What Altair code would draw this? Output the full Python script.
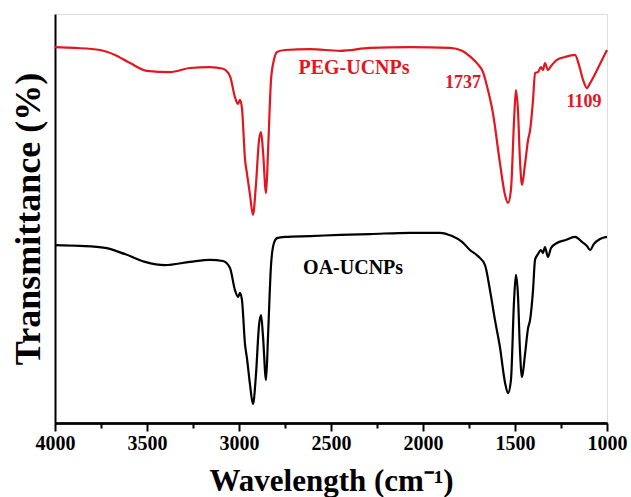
import altair as alt
import pandas as pd

# PEG-UCNPs spectrum (wavenumber, transmittance a.u.)
peg_wn = [4000, 3891, 3755, 3674, 3592, 3500, 3375, 3266, 3158, 3087, 3049, 3022, 3005, 2995, 2984,
          2967, 2957, 2940, 2924, 2908, 2891, 2880, 2870, 2853, 2842, 2826, 2810, 2793, 2750, 2614,
          2451, 2288, 2071, 1853, 1788, 1755, 1734, 1707, 1674, 1647, 1620, 1582, 1554, 1538, 1522,
          1505, 1495, 1484, 1473, 1462, 1446, 1429, 1418, 1402, 1391, 1375, 1359, 1348, 1337, 1321,
          1304, 1272, 1228, 1174, 1152, 1130, 1109, 1092, 1071, 1038, 1000]
peg_t = [91.9, 91.7, 91.2, 90.0, 88.0, 86.1, 85.8, 86.8, 87.0, 86.6, 84.8, 79.7, 78.0, 79.0, 77.0,
         64.3, 61.1, 55.7, 50.9, 58.2, 69.2, 71.1, 66.7, 56.2, 66.7, 83.9, 88.8, 90.7, 91.2, 91.4,
         91.0, 91.7, 91.9, 91.7, 91.0, 90.0, 89.2, 88.0, 85.8, 81.4, 75.8, 63.6, 55.7, 53.8, 57.0,
         74.1, 81.4, 76.5, 64.3, 58.2, 63.1, 69.2, 71.6, 79.0, 85.6, 85.8, 87.0, 86.3, 88.0, 86.3,
         87.3, 88.8, 89.5, 90.0, 87.5, 83.9, 81.9, 83.1, 84.8, 87.8, 91.2]

# OA-UCNPs spectrum
oa_wn = [4000, 3864, 3728, 3620, 3511, 3402, 3266, 3158, 3087, 3049, 3022, 3005, 2995, 2984, 2967,
         2957, 2940, 2924, 2908, 2891, 2880, 2870, 2853, 2842, 2826, 2810, 2793, 2750, 2614, 2451,
         2288, 2071, 1908, 1842, 1788, 1745, 1701, 1663, 1636, 1609, 1582, 1554, 1538, 1522, 1505,
         1495, 1484, 1473, 1462, 1446, 1429, 1418, 1402, 1391, 1375, 1359, 1348, 1337, 1321, 1304,
         1272, 1228, 1174, 1136, 1109, 1092, 1071, 1038, 1000]
oa_t = [43.5, 43.3, 42.8, 41.3, 39.4, 38.6, 39.4, 39.9, 39.6, 37.9, 32.5, 30.8, 31.8, 30.1, 19.1,
        15.9, 9.3, 4.6, 11.7, 24.0, 26.4, 21.5, 10.5, 21.5, 38.6, 44.0, 45.2, 45.5, 45.7, 46.0,
        46.2, 46.5, 46.5, 45.7, 44.3, 42.3, 40.8, 38.6, 32.5, 25.2, 18.6, 9.8, 7.3, 10.5, 30.1,
        36.2, 31.3, 17.8, 11.2, 16.6, 23.2, 25.2, 32.5, 39.9, 41.3, 42.3, 41.6, 43.0, 40.6, 42.8,
        44.0, 44.7, 45.5, 44.3, 43.3, 42.3, 43.8, 45.0, 45.5]

series_names = ["PEG-UCNPs", "OA-UCNPs"]
series_colors = ["#e2161e", "#000000"]

label_text = ["PEG-UCNPs", "1737", "1109", "OA-UCNPs"]
label_wn = [2375, 1783, 1125, 2380]
label_t = [86.8, 83.1, 78.5, 37.9]
label_color = ["#e2161e", "#e2161e", "#e2161e", "#000000"]
label_size = [20, 18, 18, 20]

major_ticks = [1000, 1500, 2000, 2500, 3000, 3500, 4000]
minor_ticks = [1250, 1750, 2250, 2750, 3250, 3750]

df = pd.concat([
    pd.DataFrame({"wn": peg_wn, "t": peg_t, "s": series_names[0]}),
    pd.DataFrame({"wn": oa_wn, "t": oa_t, "s": series_names[1]}),
])
labels = pd.DataFrame({"txt": label_text, "wn": label_wn, "t": label_t,
                       "c": label_color, "fs": label_size})

FONT = "Liberation Serif"

xscale = alt.Scale(domain=[1000, 4000], reverse=True, nice=False)
yscale = alt.Scale(domain=[0, 100], nice=False)

# labels + title (no ticks here)
xaxis = alt.Axis(
    orient="bottom", title="Wavelength (cm⁻¹)", values=major_ticks,
    format="d", grid=False, domainColor="black", domainWidth=2,
    ticks=False,
    labelFont=FONT, labelFontSize=20, labelFontWeight="bold", labelColor="black",
    labelPadding=10, labelFlush=False,
    titleFont=FONT, titleFontSize=31, titleFontWeight="bold", titleColor="black",
    titlePadding=13,
)
# major tick marks
xaxis_major = alt.Axis(
    orient="bottom", title=None, values=major_ticks, labels=False, grid=False,
    domainColor="black", domainWidth=2,
    ticks=True, tickColor="black", tickWidth=2, tickSize=8,
)
# minor tick marks
xaxis_minor = alt.Axis(
    orient="bottom", title=None, values=minor_ticks, labels=False, grid=False,
    domainColor="black", domainWidth=2,
    ticks=True, tickColor="black", tickWidth=2, tickSize=5,
)
yaxis = alt.Axis(
    title="Transmittance (%)", labels=False, ticks=False, grid=False,
    domainColor="black", domainWidth=2,
    titleFont=FONT, titleFontSize=36, titleFontWeight="bold", titleColor="black",
    titlePadding=8,
)

lines = alt.Chart(df).mark_line(strokeWidth=2.2, interpolate="monotone").encode(
    x=alt.X("wn:Q", scale=xscale, axis=xaxis),
    y=alt.Y("t:Q", scale=yscale, axis=yaxis),
    color=alt.Color("s:N", scale=alt.Scale(domain=series_names, range=series_colors), legend=None),
)

texts = alt.Chart(labels).mark_text(font=FONT, fontWeight="bold", align="center", baseline="middle").encode(
    x=alt.X("wn:Q", scale=xscale, axis=xaxis_major),
    y=alt.Y("t:Q", scale=yscale),
    text="txt:N",
    color=alt.Color("c:N", scale=None),
    size=alt.Size("fs:Q", scale=None),
)

anchor = alt.Chart(labels).mark_point(opacity=0).encode(
    x=alt.X("wn:Q", scale=xscale, axis=xaxis_minor),
    y=alt.Y("t:Q", scale=yscale),
)

chart = alt.layer(lines, texts, anchor).resolve_axis(x="independent").properties(
    width=552, height=409,
    autosize=alt.AutoSizeParams(type="none"),
    padding={"left": 55, "top": 14, "right": 24, "bottom": 74},
).configure_view(stroke="black", strokeWidth=2).configure(background="white")

chart.save("out.html", embed_options={"renderer": "svg", "actions": False})
